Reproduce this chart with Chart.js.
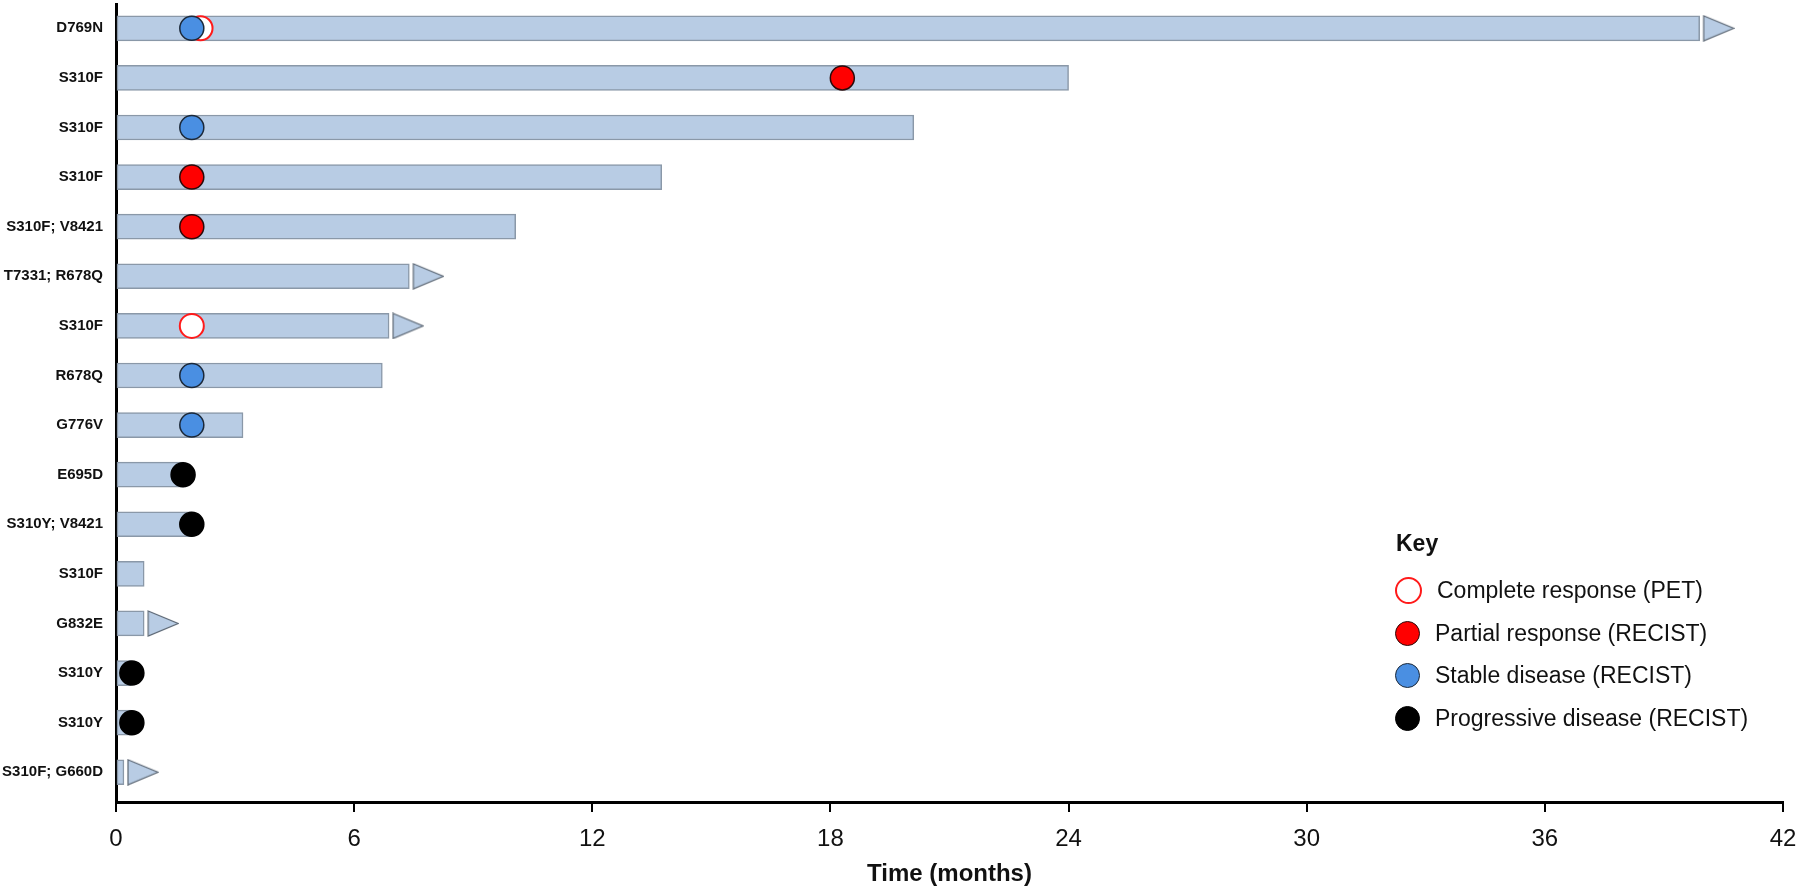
<!DOCTYPE html>
<html>
<head>
<meta charset="utf-8">
<script src="https://cdn.jsdelivr.net/npm/chart.js@4"></script>
<style>
  html, body { margin: 0; padding: 0; background: #fff; }
  #wrap { position: relative; width: 1800px; height: 890px; }
  #key { position: absolute; left: 1396px; top: 527px; font-family: "Liberation Sans", Arial, sans-serif; color: #111; }
  #key .title { font-weight: bold; font-size: 23px; height: 32px; line-height: 32px; margin-bottom: 10px; }
  #key .row { height: 42.7px; display: flex; align-items: center; font-size: 23px; }
  #key .dot { width: 23px; height: 23px; border-radius: 50%; margin-left: -1px; margin-right: 15px; box-sizing: content-box; }
</style>
</head>
<body>
<div id="wrap">
  <canvas id="chart" width="1800" height="890"></canvas>
  <div id="key"></div>
</div>
<script>
// mutation per patient, top to bottom
const rows = ['D769N', 'S310F', 'S310F', 'S310F', 'S310F; V8421', 'T7331; R678Q', 'S310F', 'R678Q',
  'G776V', 'E695D', 'S310Y; V8421', 'S310F', 'G832E', 'S310Y', 'S310Y', 'S310F; G660D'];
// time on treatment (months)
const durations = [39.9, 24.0, 20.1, 13.75, 10.07, 7.39, 6.88, 6.71, 3.2, 1.7, 1.9, 0.71, 0.71, 0.38, 0.38, 0.2];
// still on treatment (arrow)
const ongoing = [true, false, false, false, false, true, true, false, false, false, false, false, true, false, false, true];
// response time points (months), null = none
const completeResp = [2.13, null, null, null, null, null, 1.91, null, null, null, null, null, null, null, null, null];
const partialResp = [null, 18.3, null, 1.91, 1.91, null, null, null, null, null, null, null, null, null, null, null];
const stableDis = [1.91, null, 1.91, null, null, null, null, 1.91, 1.91, null, null, null, null, null, null, null];
const progressive = [null, null, null, null, null, null, null, null, null, 1.69, 1.91, null, null, 0.4, 0.4, null];
const xTicks = [0, 6, 12, 18, 24, 30, 36, 42];

const barFill = '#b8cce4';
const barEdge = '#8a98a8';

const keyItems = [
  { label: 'Complete response (PET)', fill: '#ffffff', edge: '#ff1a1a' },
  { label: 'Partial response (RECIST)', fill: '#ff0000', edge: '#2a0a0a' },
  { label: 'Stable disease (RECIST)', fill: '#4a8fe2', edge: '#1b2838' },
  { label: 'Progressive disease (RECIST)', fill: '#000000', edge: '#000000' }
];

function pointsFrom(arr) {
  const out = [];
  arr.forEach((v, i) => { if (v !== null) out.push({ x: v, y: i }); });
  return out;
}

// arrow marker, drawn to the right of the bar end
function makeArrow() {
  const triW = 30, triH = 25, gap = 4;
  const c = document.createElement('canvas');
  c.width = 2 * (gap + triW + 1);
  c.height = triH + 2;
  const g = c.getContext('2d');
  const x0 = c.width / 2 + gap;
  g.beginPath();
  g.moveTo(x0, 1);
  g.lineTo(x0 + triW, 1 + triH / 2);
  g.lineTo(x0, 1 + triH);
  g.closePath();
  g.fillStyle = barFill;
  g.fill();
  g.strokeStyle = '#5d6875';
  g.lineWidth = 1.2;
  g.stroke();
  return c;
}

function markerSet(label, arr, item, order) {
  return {
    type: 'scatter',
    label: label,
    data: pointsFrom(arr),
    pointRadius: 12,
    pointBorderWidth: item.fill === '#ffffff' ? 2 : 1.5,
    pointBackgroundColor: item.fill,
    pointBorderColor: item.edge,
    order: order
  };
}

const arrowData = [];
ongoing.forEach((on, i) => { if (on) arrowData.push({ x: durations[i], y: i }); });

const ctx = document.getElementById('chart').getContext('2d');
new Chart(ctx, {
  type: 'bar',
  data: {
    datasets: [
      {
        label: 'Duration',
        data: durations.map((d, i) => ({ x: [0, d], y: i })),
        backgroundColor: barFill,
        borderColor: barEdge,
        borderWidth: 1.5,
        borderSkipped: false,
        barThickness: 25,
        order: 10
      },
      {
        type: 'scatter',
        label: 'Ongoing',
        data: arrowData,
        pointStyle: makeArrow(),
        pointRadius: 10,
        order: 9
      },
      markerSet('CR', completeResp, keyItems[0], 5),
      markerSet('PR', partialResp, keyItems[1], 4),
      markerSet('SD', stableDis, keyItems[2], 3),
      markerSet('PD', progressive, keyItems[3], 2)
    ]
  },
  options: {
    indexAxis: 'y',
    responsive: false,
    animation: false,
    events: [],
    layout: { autoPadding: false, padding: { top: 4, right: 17, bottom: 0, left: 0 } },
    plugins: { legend: { display: false }, tooltip: { enabled: false } },
    scales: {
      x: {
        type: 'linear',
        min: 0,
        max: 42,
        afterBuildTicks: (s) => { s.ticks = xTicks.map(v => ({ value: v })); },
        afterFit: (s) => { s.height = 88; s.paddingLeft = 0; s.paddingRight = 0; },
        ticks: {
          color: '#111',
          font: { family: '"Liberation Sans", Arial, sans-serif', size: 24 },
          padding: 13,
          maxRotation: 0
        },
        grid: { drawOnChartArea: false, drawTicks: true, tickLength: 10, color: '#000', lineWidth: 2 },
        border: { display: true, color: '#000', width: 3 },
        title: {
          display: true,
          text: 'Time (months)',
          color: '#111',
          font: { family: '"Liberation Sans", Arial, sans-serif', size: 24, weight: 'bold' },
          padding: { top: 0, bottom: 1 }
        }
      },
      y: {
        type: 'linear',
        reverse: true,
        offset: false,
        min: -0.49,
        max: 15.6,
        afterBuildTicks: (s) => { s.ticks = rows.map((r, i) => ({ value: i })); },
        afterFit: (s) => { s.width = 116; s.paddingTop = 0; s.paddingBottom = 0; },
        ticks: {
          color: '#111',
          font: { family: '"Liberation Sans", Arial, sans-serif', size: 15, weight: 'bold' },
          padding: 13,
          autoSkip: false,
          callback: (v) => rows[v]
        },
        grid: { display: false, drawTicks: false },
        border: { display: true, color: '#000', width: 3 }
      }
    }
  }
});

// key (legend) as real text
const key = document.getElementById('key');
const t = document.createElement('div');
t.className = 'title';
t.textContent = 'Key';
key.appendChild(t);
keyItems.forEach(item => {
  const r = document.createElement('div');
  r.className = 'row';
  const d = document.createElement('span');
  d.className = 'dot';
  d.style.background = item.fill;
  d.style.border = (item.fill === '#ffffff' ? 2 : 1.5) + 'px solid ' + item.edge;
  const s = document.createElement('span');
  s.textContent = item.label;
  r.appendChild(d);
  r.appendChild(s);
  key.appendChild(r);
});
</script>
</body>
</html>
